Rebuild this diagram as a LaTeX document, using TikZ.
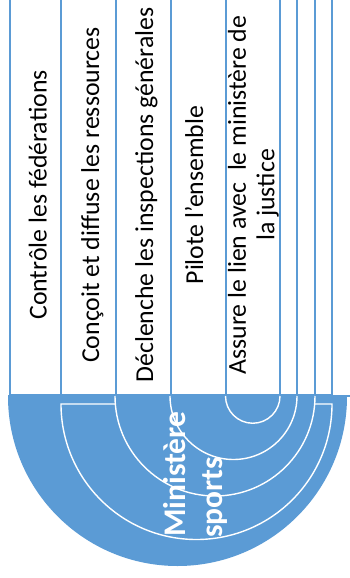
\documentclass[tikz,border=0pt]{standalone}
\usepackage{fontspec}
\setmainfont{Carlito}
\definecolor{accent}{HTML}{5B9BD5}

\begin{document}
\begin{tikzpicture}[x=1pt,y=1pt,
    box/.style={draw=accent,line width=1.6pt,fill=white},
    ring/.style={fill=accent,draw=white,line width=1.4pt},
    arcline/.style={draw=white,line width=1.4pt},
    coltext/.style={rotate=90,anchor=base,inner sep=0pt,text=black,font=\fontsize{25.8}{28.5}\selectfont},
    coretext/.style={rotate=90,anchor=base west,inner sep=0pt,text=white,font=\bfseries\fontsize{31.5}{37}\selectfont}]
    \useasboundingbox (0,0) rectangle (350,-578);
    \clip (0,0) rectangle (350,-578);

    \draw[box] (10,3) rectangle (332,-395);
    \draw[box] (61,3) rectangle (315,-395);
    \draw[box] (116,3) rectangle (297,-395);
    \draw[box] (171,3) rectangle (280,-395);
    \draw[box] (226,3) rectangle (280,-395);

    \node[coltext] (ctrl) at (46.5,-195) {Contrôle les fédérations};
    \node[coltext] (concoit) at (99,-195) {Conçoit et diffuse les ressources};
    \node[coltext] (declenche) at (153,-195) {Déclenche les inspections générales};
    \node[coltext] (pilote) at (203,-195) {Pilote l’ensemble};
    \node[coltext,align=center,anchor=center] (assure) at (253.5,-195) {Assure le lien avec~ le ministère de\\la justice};

    \fill[accent] (8,-396.5) arc[start angle=180,end angle=360,radius=169.5] -- cycle;
    \draw[accent,line width=1.6pt] (8,-396) -- (350,-396);
    \filldraw[ring] (61,-404) arc[start angle=180,end angle=360,radius=135.5] -- cycle;
    \fill[accent] (115,-396) arc[start angle=180,end angle=360,radius=100] -- cycle;
    \draw[arcline] (115,-396) arc[start angle=180,end angle=360,radius=100];
    \fill[accent] (170,-396) arc[start angle=180,end angle=360,radius=63.5] -- cycle;
    \draw[arcline] (170,-396) arc[start angle=180,end angle=360,radius=63.5];
    \fill[accent] (225.5,-396) arc[start angle=180,end angle=360,radius=27.25] -- cycle;
    \draw[arcline] (225.5,-396) arc[start angle=180,end angle=360,radius=27.25];

    \node[coretext] (ministere) at (185,-537) {Ministère};
    \node[coretext] (sports) at (222,-538) {sports};
\end{tikzpicture}
\end{document}
